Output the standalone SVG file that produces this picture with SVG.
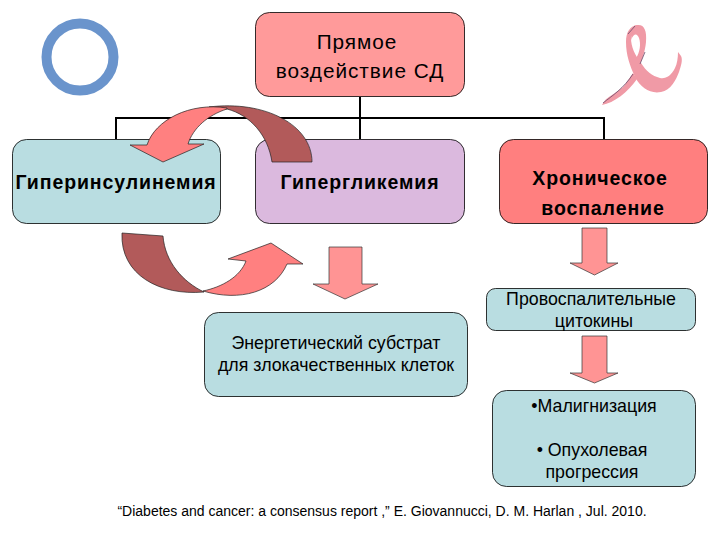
<svg xmlns="http://www.w3.org/2000/svg" width="720" height="540" viewBox="0 0 720 540">
<style>
text{font-family:"Liberation Sans",Arial,sans-serif;fill:#000;text-anchor:middle}
.n{font-size:17.800px}
.m{font-size:20.800px;letter-spacing:.95px}
.b{font-size:19.500px;font-weight:bold;letter-spacing:.9px}
.box{stroke:#000;stroke-width:.8}
.teal{fill:#b9dde1}
.ar{fill:#ff9494;stroke:#333;stroke-width:.7}
.cl{fill:#ff8080;stroke:#222;stroke-width:.7}
.cd{fill:#b25a5a;stroke:#222;stroke-width:.7}
.rib{fill:#f09aa6}
</style>
<rect width="720" height="540" fill="#fff"/>
<g id="connectors">
<path d="M116 139V118H604V139M360 97V139" fill="none" stroke="#000" stroke-width="2"/>
</g>
<g id="deco-circle"><circle cx="80" cy="57" r="33.500" fill="none" stroke="#6a94cc" stroke-width="10"/></g>
<g id="deco-ribbon">
<path class="rib" d="M637 25C630 26 626 32 626 42C626 55 630 66 635 77C641 88 650 94 661 92C671 90 676 80 679 72C681 66 683 60 681 56L678 52C678 58 677 64 675 68C671 76 666 79 660 78C652 76 646 71 641 63C635 55 631 47 631 38Z"/>
<path class="rib" d="M631 40C632 30 634 25 637 25C644 24 647 30 646 42C645 52 642 60 640 64L636 58C640 52 641 44 639 38C637 33 634 33 631 40Z"/>
<path class="rib" d="M602 105C606 96 616 94 624 86L633 73L637 79C628 92 614 103 602 105Z"/>
<path d="M628 34L635 26M603 103C612 96 624 88 633 74M645 52L640 64" fill="none" stroke="#6a4a6a" stroke-width=".8"/>
</g>
<g id="n-direct" class="node">
<rect class="box" x="255.500" y="12.500" width="209" height="84" rx="14" fill="#ff9a9a"/>
<text class="m" x="357" y="49">Прямое</text>
<text class="m" x="360" y="78">воздействие СД</text>
</g>
<g id="n-hyperins" class="node">
<rect class="box teal" x="12.500" y="139.500" width="208" height="84" rx="14"/>
<text class="b" x="116" y="189">Гиперинсулинемия</text>
</g>
<g id="n-hyperglyc" class="node">
<rect class="box" x="255.500" y="139.500" width="209" height="84" rx="14" fill="#dbb9de"/>
<text class="b" x="360" y="189">Гипергликемия</text>
</g>
<g id="n-inflam" class="node">
<rect class="box" x="499.500" y="139.500" width="208" height="84" rx="14" fill="#ff7f7f"/>
<text class="b" x="600" y="185">Хроническое</text>
<text class="b" x="603" y="215">воспаление</text>
</g>
<g id="n-substrate" class="node">
<rect class="box teal" x="204.500" y="312.500" width="263" height="84" rx="14"/>
<text class="n" x="336" y="349">Энергетический субстрат</text>
<text class="n" x="336" y="371">для злокачественных клеток</text>
</g>
<g id="n-cytokines" class="node">
<rect class="box teal" x="486.500" y="288.500" width="209" height="42" rx="9"/>
<text class="n" x="591" y="305">Провоспалительные</text>
<text class="n" x="594" y="327">цитокины</text>
</g>
<g id="n-malign" class="node">
<rect class="box teal" x="492.500" y="390.500" width="203" height="96" rx="14"/>
<text class="n" x="594" y="412">•Малигнизация</text>
<text class="n" x="592" y="456">• Опухолевая</text>
<text class="n" x="592" y="478">прогрессия</text>
</g>
<g id="arrows">
<path class="ar" d="M582 228H607V263H618L594.500 275L570 263H582Z"/>
<path class="ar" d="M582 336H607V373H618L594.500 383L570 373H582Z"/>
<path class="ar" d="M329 247H362V284H378L345 299L313 284H329Z"/>
<path class="cd" d="M209 107C265 100 312 125 312 162H272C268 135 250 115 227 109Z"/>
<path class="cl" d="M227 108C190 102 155 120 147 145H130L163 162L204 144H188C193 128 208 115 227 109Z"/>
<path class="cd" d="M122 233L163 236C165 262 183 282 204 292C160 296 120 275 122 233Z"/>
<path class="cl" d="M203 291C240 302 275 292 287 264H303L271 243L228 259L246 261C240 277 222 287 203 291Z"/>
</g>
<text id="citation" x="382" y="516" style="font-size:14px">“Diabetes and cancer: a consensus report ,” E. Giovannucci, D. M. Harlan , Jul. 2010.</text>
</svg>
